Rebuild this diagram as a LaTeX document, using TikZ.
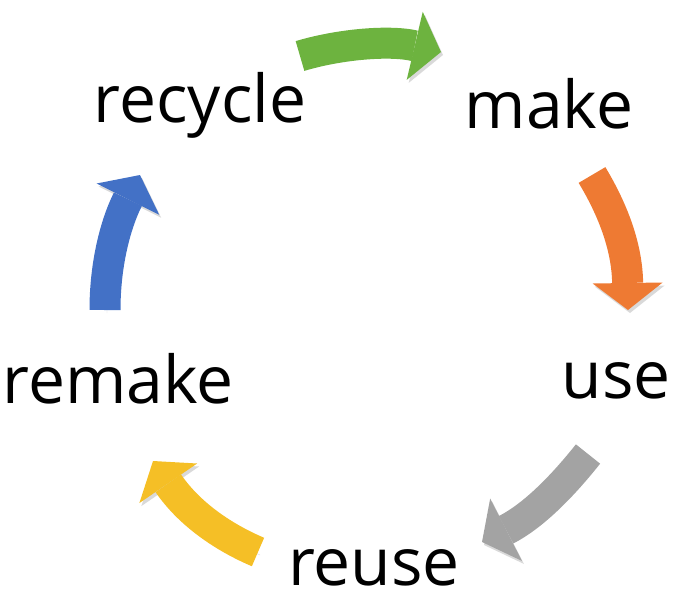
\documentclass[tikz,border=0pt]{standalone}
\usepackage{fontspec}
\setmainfont{Open Sans}
\usepackage{xcolor}
\usetikzlibrary{arrows.meta}

\definecolor{cyclegreen}{HTML}{6DB33F}
\definecolor{cycleorange}{HTML}{EE7A33}
\definecolor{cyclegray}{HTML}{A3A3A3}
\definecolor{cycleyellow}{HTML}{F5BF26}
\definecolor{cycleblue}{HTML}{4371C6}

\begin{document}
\begin{tikzpicture}[
    x=1pt, y=-1pt,
    word/.style={inner sep=0pt, anchor=base, font=\fontsize{66}{66}\selectfont},
    cyclearrow/.style={line width=31pt, -{Triangle[width=70pt, length=27pt, line width=0pt]},
        preaction={draw=black!15, transform canvas={shift={(2pt,-3pt)}}}}
]
\useasboundingbox (0,0) rectangle (674,600);

% Words
\node (recycle) [word] at (200,122) {recycle};
\node (make) [word] at (549,128) {make};
\node (use) [word] at (616,398) {use};
\node (reuse) [word] at (374,585) {reuse};
\node (remake) [word] at (118,403) {remake};

% Arrow ends
\coordinate (g1) at (300,56);
\coordinate (g2) at (441,52);
\coordinate (o1) at (592,175);
\coordinate (o2) at (628,310);
\coordinate (k1) at (588,454);
\coordinate (k2) at (482,542);
\coordinate (y1) at (258,552);
\coordinate (y2) at (153,461);
\coordinate (b1) at (105,310);
\coordinate (b2) at (140,175);

% Arrows
\draw[cyclearrow, draw=cyclegreen] (g1) .. controls +(40,-12) and +(-51,-12) .. (g2);
\draw[cyclearrow, draw=cycleorange] (o1) .. controls +(15,25) and +(-1,-70) .. (o2);
\draw[cyclearrow, draw=cyclegray] (k1) .. controls +(-23,29) and +(53,-27) .. (k2);
\draw[cyclearrow, draw=cycleyellow] (y1) .. controls +(-33,-14) and +(37,54) .. (y2);
\draw[cyclearrow, draw=cycleblue] (b1) .. controls +(0,-45) and +(-25,50) .. (b2);

\end{tikzpicture}
\end{document}
